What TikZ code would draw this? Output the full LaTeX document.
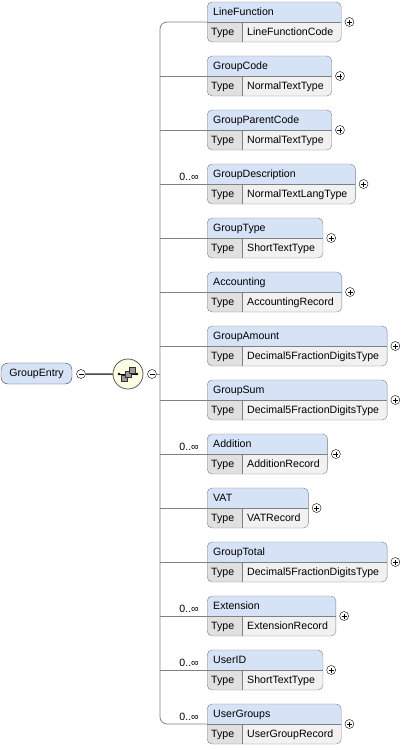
\documentclass[tikz,border=0pt]{standalone}
\usepackage{fontspec}
\setmainfont{Liberation Sans}
\definecolor{hdrblue}{RGB}{214,227,247}
\definecolor{rowgray}{RGB}{241,241,241}
\definecolor{typegray}{RGB}{224,224,224}
\definecolor{elborder}{RGB}{128,128,128}
\definecolor{linegray}{RGB}{128,128,128}
\definecolor{seqcream}{RGB}{255,255,230}
\newcommand{\elstrut}{\rule[-7pt]{0pt}{20pt}}
\newcommand{\elcontent}[2]{\elstrut\hspace*{6pt}#1\\\elstrut\hspace*{4pt}\makebox[31pt][l]{Type}\hspace*{5pt}#2\hspace*{8pt}}
\tikzset{
  elem/.style={draw=elborder, fill=rowgray, rounded corners=5pt, inner sep=0pt,
    anchor=west, align=left, font=\fontsize{10.6}{20}\selectfont,
    path picture={
      \fill[hdrblue, sharp corners] (path picture bounding box.north west) rectangle (path picture bounding box.east);
      \fill[typegray, sharp corners] (path picture bounding box.west) rectangle ([xshift=35pt]path picture bounding box.south west);
      \draw[elborder, sharp corners] (path picture bounding box.west) -- (path picture bounding box.east);
      \draw[elborder, sharp corners] ([xshift=35pt]path picture bounding box.west) -- ([xshift=35pt]path picture bounding box.south west);
    }},
  plus/.style={circle, draw=black, fill=white, minimum size=9pt, inner sep=0pt,
    path picture={
      \draw ([xshift=-2.5pt]path picture bounding box.center) -- ([xshift=2.5pt]path picture bounding box.center);
      \draw ([yshift=-2.5pt]path picture bounding box.center) -- ([yshift=2.5pt]path picture bounding box.center);
    }},
  minus/.style={circle, draw=black, fill=white, minimum size=9pt, inner sep=0pt,
    path picture={
      \draw ([xshift=-2.5pt]path picture bounding box.center) -- ([xshift=2.5pt]path picture bounding box.center);
    }},
  mult/.style={anchor=east, inner sep=0pt, font=\fontsize{10.6}{12}\selectfont},
  conn/.style={draw=linegray, line width=0.8pt}
}
\begin{document}
\begin{tikzpicture}[x=1pt,y=-1pt]
        \useasboundingbox (0,0) rectangle (419,750);
        % root element and sequence
        \node[draw=black!75, fill=hdrblue, rounded corners=7pt, minimum width=71pt, minimum height=21pt,
          inner sep=0pt, font=\fontsize{10.6}{12}\selectfont] (root) at (36.5,373.5) {GroupEntry};
        \node[minus] (rootm) at (81,374) {};
        \node[circle, draw=black!65, line width=0.8pt, fill=seqcream, minimum size=30pt, inner sep=0pt,
          path picture={
            \draw[black] ([xshift=-9pt]path picture bounding box.center) -- ([xshift=9pt]path picture bounding box.center);
            \fill[black] ([xshift=-9pt]path picture bounding box.center) circle (1.3pt);
            \fill[black] ([xshift=9pt]path picture bounding box.center) circle (1.3pt);
            \foreach \d in {-4,0,4}
              \filldraw[fill=black!40, draw=black!80] ([shift={(\d pt-3pt,\d pt-3pt)}]path picture bounding box.center) rectangle ([shift={(\d pt+3pt,\d pt+3pt)}]path picture bounding box.center);
          }] (seq) at (128,374) {};
        \node[minus] (seqm) at (152,374) {};
        \coordinate (sp) at (160,374);

        \begin{scope}[every node/.style={elem}]
          \node (lf) at (207,22) {\elcontent{LineFunction}{LineFunctionCode}};
          \node (gc) at (207,76) {\elcontent{GroupCode}{NormalTextType}};
          \node (gpc) at (207,130) {\elcontent{GroupParentCode}{NormalTextType}};
          \node (gd) at (207,184) {\elcontent{GroupDescription}{NormalTextLangType}};
          \node (gt) at (207,238) {\elcontent{GroupType}{ShortTextType}};
          \node (acc) at (207,292) {\elcontent{Accounting}{AccountingRecord}};
          \node (ga) at (207,346) {\elcontent{GroupAmount}{Decimal5FractionDigitsType}};
          \node (gs) at (207,400) {\elcontent{GroupSum}{Decimal5FractionDigitsType}};
          \node (add) at (207,454) {\elcontent{Addition}{AdditionRecord}};
          \node (vat) at (207,508) {\elcontent{VAT}{VATRecord}};
          \node (gtot) at (207,562) {\elcontent{GroupTotal}{Decimal5FractionDigitsType}};
          \node (ext) at (207,616) {\elcontent{Extension}{ExtensionRecord}};
          \node (uid) at (207,670) {\elcontent{UserID}{ShortTextType}};
          \node (ug) at (207,724) {\elcontent{UserGroups}{UserGroupRecord}};
        \end{scope}

        \begin{scope}[every node/.style={plus}]
          \node (lfp) at ([xshift=8pt]lf.east) {};
          \node (gcp) at ([xshift=8pt]gc.east) {};
          \node (gpcp) at ([xshift=8pt]gpc.east) {};
          \node (gdp) at ([xshift=8pt]gd.east) {};
          \node (gtp) at ([xshift=8pt]gt.east) {};
          \node (accp) at ([xshift=8pt]acc.east) {};
          \node (gap) at ([xshift=8pt]ga.east) {};
          \node (gsp) at ([xshift=8pt]gs.east) {};
          \node (addp) at ([xshift=8pt]add.east) {};
          \node (vatp) at ([xshift=8pt]vat.east) {};
          \node (gtotp) at ([xshift=8pt]gtot.east) {};
          \node (extp) at ([xshift=8pt]ext.east) {};
          \node (uidp) at ([xshift=8pt]uid.east) {};
          \node (ugp) at ([xshift=8pt]ug.east) {};
        \end{scope}

        \begin{scope}[every node/.style={mult}]
          \node (gdm) at ([shift={(-8pt,7pt)}]gd.west) {0..∞};
          \node (addm) at ([shift={(-8pt,7pt)}]add.west) {0..∞};
          \node (extm) at ([shift={(-8pt,7pt)}]ext.west) {0..∞};
          \node (uidm) at ([shift={(-8pt,7pt)}]uid.west) {0..∞};
          \node (ugm) at ([shift={(-8pt,7pt)}]ug.west) {0..∞};
        \end{scope}

        \draw[linegray, line width=2.5pt] (rootm) -- (seq);
        \draw[black!70, line width=0.6pt] (rootm.east) -- (seq.west);
        \draw[conn] (seqm) -- (sp);
        \draw[conn, rounded corners=7pt] (lf.west) -| (sp |- ug.west) -- (ug.west);
        \begin{scope}[every edge/.style={conn}]
          \path (sp |- gc.west) edge (gc.west);
          \path (sp |- gpc.west) edge (gpc.west);
          \path (sp |- gd.west) edge (gd.west);
          \path (sp |- gt.west) edge (gt.west);
          \path (sp |- acc.west) edge (acc.west);
          \path (sp |- ga.west) edge (ga.west);
          \path (sp |- gs.west) edge (gs.west);
          \path (sp |- add.west) edge (add.west);
          \path (sp |- vat.west) edge (vat.west);
          \path (sp |- gtot.west) edge (gtot.west);
          \path (sp |- ext.west) edge (ext.west);
          \path (sp |- uid.west) edge (uid.west);
        \end{scope}
\end{tikzpicture}
\end{document}
